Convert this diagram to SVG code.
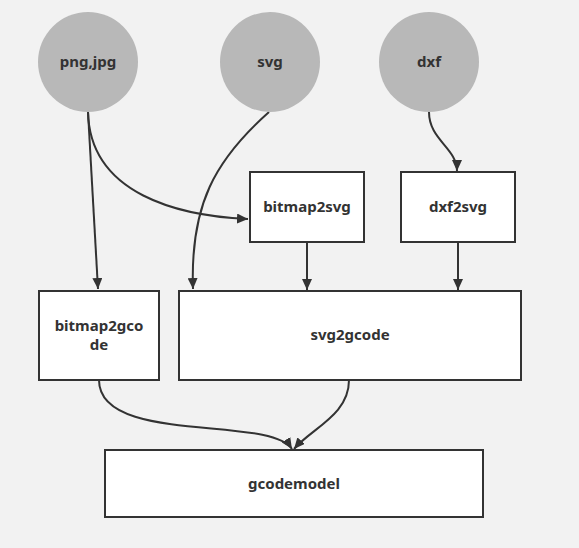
<svg xmlns="http://www.w3.org/2000/svg" width="579" height="548" viewBox="0 0 579 548">
<style>
.bg{fill:#f2f2f2}
.c{fill:#b8b8b8}
.b{fill:#ffffff;stroke:#333333;stroke-width:2}
.t{font-family:"Noto Sans","Open Sans","DejaVu Sans",sans-serif;font-weight:bold;font-size:15px;fill:#333333;text-anchor:middle}
.e{fill:none;stroke:#333333;stroke-width:2}
</style>
<defs>
<marker id="ah" markerUnits="userSpaceOnUse" markerWidth="12" markerHeight="10" refX="11" refY="5" orient="auto">
<path d="M0,0 L11,5 L0,10 z" fill="#333333"/>
</marker>
</defs>
<rect class="bg" x="0" y="0" width="579" height="548"/>
<g id="connectors">
<path class="e" d="M88,112 L98,289" marker-end="url(#ah)"/>
<path class="e" d="M88,112 C90,195 180,216 248,219" marker-end="url(#ah)"/>
<path class="e" d="M269,112 C215,160 190,205 193,289" marker-end="url(#ah)"/>
<path class="e" d="M429,112 C429,140 457,148 457,171" marker-end="url(#ah)"/>
<path class="e" d="M307,242 L307,290" marker-end="url(#ah)"/>
<path class="e" d="M458,242 L458,290" marker-end="url(#ah)"/>
<path class="e" d="M99,380 C99,445 270,415 292,449" marker-end="url(#ah)"/>
<path class="e" d="M349,380 C349,415 312,428 294,449" marker-end="url(#ah)"/>
</g>
<g id="n-png">
<circle class="c" cx="88" cy="62" r="50"/>
<text class="t" x="88" y="67">png,jpg</text>
</g>
<g id="n-svg">
<circle class="c" cx="270" cy="62" r="50"/>
<text class="t" x="270" y="67">svg</text>
</g>
<g id="n-dxf">
<circle class="c" cx="429" cy="62" r="50"/>
<text class="t" x="429" y="67">dxf</text>
</g>
<g id="n-bitmap2svg">
<rect class="b" x="250" y="172" width="114" height="70"/>
<text class="t" x="307" y="212">bitmap2svg</text>
</g>
<g id="n-dxf2svg">
<rect class="b" x="401" y="172" width="114" height="70"/>
<text class="t" x="458" y="212">dxf2svg</text>
</g>
<g id="n-bitmap2gcode">
<rect class="b" x="39" y="291" width="120" height="89"/>
<text class="t" x="99" y="331">bitmap2gco</text>
<text class="t" x="99" y="350">de</text>
</g>
<g id="n-svg2gcode">
<rect class="b" x="179" y="291" width="342" height="89"/>
<text class="t" x="350" y="340">svg2gcode</text>
</g>
<g id="n-gcodemodel">
<rect class="b" x="105" y="450" width="378" height="67"/>
<text class="t" x="294" y="489">gcodemodel</text>
</g>
</svg>
